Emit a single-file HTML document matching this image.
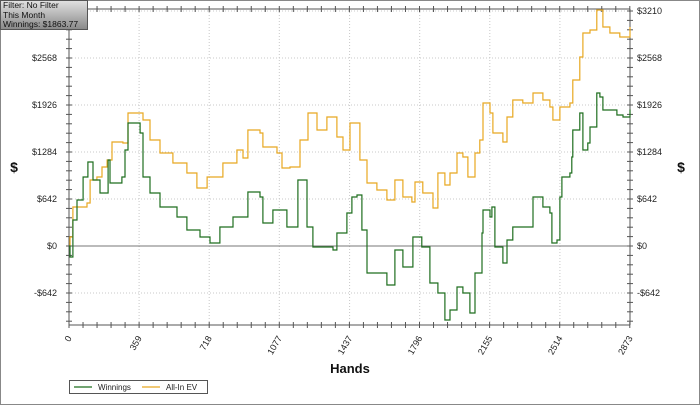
<!DOCTYPE html>
<html><head><meta charset="utf-8"><style>
body{margin:0;background:#fff;}
#wrap{position:relative;width:700px;height:405px;overflow:hidden;background:#fff;font-family:"Liberation Sans",sans-serif;}
#info{position:absolute;left:0;top:0;width:88px;height:30px;border:1px solid #555;background:linear-gradient(#e0e0e0,#8a8a8a);font-size:8.5px;line-height:9.5px;padding-left:2px;padding-top:0px;color:#111;box-sizing:border-box;white-space:nowrap;}
</style></head><body>
<div id="wrap">
<svg id="chart" width="700" height="405" style="position:absolute;left:0;top:0"></svg>
<div id="info">Filter: No Filter<br>This Month<br>Winnings: $1863.77</div>
</div>
<script>
const xTicks=[0,359,718,1077,1437,1796,2155,2514,2873];
const yTicks=[-642,0,642,1284,1926,2568,3210];
const yTickLabels=["-$642","$0","$642","$1284","$1926","$2568","$3210"];
const winHands=[0,5,20,41,72,97,123,159,200,210,271,287,302,364,379,415,466,553,604,671,722,773,840,916,978,993,1044,1116,1172,1219,1249,1321,1352,1372,1423,1449,1475,1500,1526,1628,1669,1710,1761,1807,1848,1889,1925,1951,1987,2017,2053,2079,2115,2120,2156,2166,2181,2222,2243,2273,2360,2376,2427,2463,2473,2499,2514,2524,2565,2575,2580,2616,2632,2657,2668,2703,2719,2734,2806,2837,2873];
const winValues=[0,-150,355,628,942,1147,902,724,1175,861,943,1311,1680,1544,943,724,533,396,219,123,41,260,396,738,669,314,492,260,902,260,-14,-14,-55,178,451,669,697,219,-369,-533,-55,-287,123,-14,-505,-642,-1011,-874,-560,-642,-915,-369,178,492,396,533,-14,-232,82,260,260,669,533,451,41,82,669,942,997,1216,1585,1817,1311,1407,1626,2090,2035,1858,1789,1762,1864];
const evHands=[0,5,20,92,108,143,169,195,220,276,302,379,415,466,532,604,655,707,788,860,891,916,978,993,1065,1091,1132,1183,1224,1270,1321,1372,1403,1439,1475,1490,1526,1577,1628,1669,1710,1756,1772,1812,1864,1889,1925,1951,1987,2017,2043,2079,2104,2120,2156,2171,2222,2243,2273,2324,2376,2427,2463,2478,2514,2565,2580,2616,2632,2668,2703,2734,2770,2821,2873];
const evValues=[0,123,533,587,902,943,1079,1175,1421,1407,1817,1721,1448,1270,1134,997,792,943,1134,1311,1202,1585,1544,1352,1270,1065,1079,1448,1817,1585,1762,1489,1311,1680,1680,1175,861,765,628,902,669,601,874,724,519,997,833,997,1270,1216,943,1270,1448,1953,1817,1544,1421,1762,1994,1953,2090,1994,1899,1721,1899,1953,2268,2582,2910,2951,3224,2992,2910,2855,2992];

const svg=document.getElementById('chart');
const NS='http://www.w3.org/2000/svg';
const L=69,R=630,T=9,B=325;
const xMin=0,xMax=2873,yZero=246,yPer=47/642;
function X(h){return L+(h-xMin)/(xMax-xMin)*(R-L);}
function Y(v){return yZero-v*yPer;}
function mk(tag,attrs){const e=document.createElementNS(NS,tag);for(const k in attrs)e.setAttribute(k,attrs[k]);svg.appendChild(e);return e;}

let e=mk('rect',{x:0.5,y:0.5,width:699,height:404,fill:'none',stroke:'#888'});



xTicks.forEach((t,i)=>{if(i==0||i==xTicks.length-1)return;
 const g=mk('line',{x1:X(t),x2:X(t),y1:T,y2:B,stroke:'#c8c8c8','stroke-dasharray':'1,2'});
 
 });
yTicks.forEach(t=>{if(t===0)return;
 const g=mk('line',{x1:L,x2:R,y1:Y(t),y2:Y(t),stroke:'#c8c8c8','stroke-dasharray':'1,2'});
 
 });
e=mk('line',{x1:L,x2:R,y1:Y(0),y2:Y(0),stroke:'#777'});



[[L,T,L,B],[R,T,R,B],[L,B,R,B],[L,T,R,T]].forEach((a,i)=>{
 const ax=mk('line',{x1:a[0],y1:a[1],x2:a[2],y2:a[3],stroke:'#555'});
 
 });

const xStep=359/5;
for(let k=0;k<=40;k++){const h=k*xStep; if(h>2874)break;
 const tk=mk('line',{x1:X(h),x2:X(h),y1:B-3,y2:B+3,stroke:'#555'});
 
 
 const tt=mk('line',{x1:X(h),x2:X(h),y1:T-3,y2:T+3,stroke:'#555'});
 
 }
const yStep=642/5;
for(let k=-9;k<=26;k++){const yy=Y(k*yStep); if(yy<T-1||yy>B+1)continue;
 const a=mk('line',{x1:L-3,x2:L+3,y1:yy,y2:yy,stroke:'#555'});
 
 
 const b=mk('line',{x1:R-3,x2:R+3,y1:yy,y2:yy,stroke:'#555'});
 
 }

yTicks.forEach((t,i)=>{
 const a=mk('text',{x:57,y:Y(t)+3,'text-anchor':'end','font-size':9,fill:'#222'});a.textContent=yTickLabels[i];
 
 
 const b=mk('text',{x:637,y:Y(t)+3,'font-size':9,fill:'#222'});b.textContent=yTickLabels[i];
 
 });
xTicks.forEach(t=>{
 const a=mk('text',{x:X(t)+3,y:B+13,'text-anchor':'end','font-size':9,fill:'#222',transform:`rotate(-60 ${X(t)+3} ${B+13})`});a.textContent=t;
 
 });

e=mk('text',{x:350,y:373,'text-anchor':'middle','font-size':13,'font-weight':'bold',fill:'#111'});e.textContent='Hands';


e=mk('text',{x:14,y:172,'text-anchor':'middle','font-size':14,'font-weight':'bold',fill:'#111'});e.textContent='$';


e=mk('text',{x:681,y:172,'text-anchor':'middle','font-size':14,'font-weight':'bold',fill:'#111'});e.textContent='$';



function stepPath(hs,vs){let d='M'+X(hs[0])+' '+Y(vs[0]);for(let i=1;i<hs.length;i++){d+=' H'+X(hs[i]).toFixed(1)+' V'+Y(vs[i]).toFixed(1);}return d;}
e=mk('path',{d:stepPath(evHands,evValues),fill:'none',stroke:'#e8a820','stroke-width':1.2});


e=mk('path',{d:stepPath(winHands,winValues),fill:'none',stroke:'#1e6e1e','stroke-width':1.2});



e=mk('rect',{x:69.5,y:380.5,width:138,height:13,fill:'#fff',stroke:'#555'});


e=mk('line',{x1:74,x2:92,y1:387,y2:387,stroke:'#1e6e1e','stroke-width':1.2});


e=mk('text',{x:98,y:390,'font-size':8,fill:'#222'});e.textContent='Winnings';


e=mk('line',{x1:142,x2:160,y1:387,y2:387,stroke:'#e8a820','stroke-width':1.2});


e=mk('text',{x:166,y:390,'font-size':8,fill:'#222'});e.textContent='All-In EV';


</script>
</body></html>
